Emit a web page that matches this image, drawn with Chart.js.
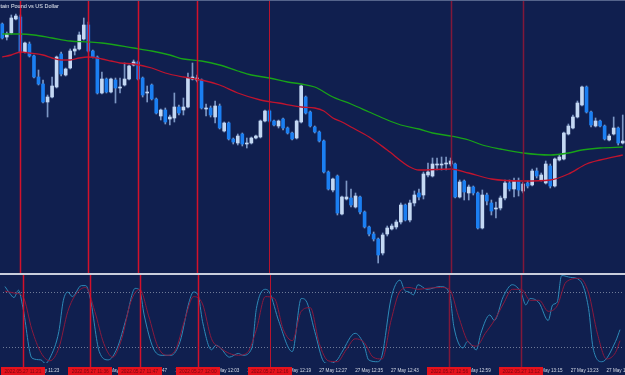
<!doctype html>
<html lang="en">
<head>
<meta charset="utf-8">
<title>GBPUSD M1</title>
<script src="https://cdn.jsdelivr.net/npm/chart.js"></script>
<style>
  html, body { margin: 0; padding: 0; background: #101f4f; overflow: hidden; }
  canvas { display: block; }
  .sep { height: 2px; background: #c9cedc; }
</style>
</head>
<body>
  <canvas id="priceChart" width="625" height="273"></canvas>
  <div class="sep"></div>
  <canvas id="stochChart" width="625" height="100"></canvas>

<script>
  // M1 candles, 27 May 2022, from 11:17
  const open = [
    1.26276,1.26263,1.26267,1.26281,1.26283,1.26248,1.26256,1.26244,1.26223,1.26216,
    1.26198,1.26203,1.26213,1.26246,1.26225,1.26232,1.26249,1.26251,1.26261,1.26275,
    1.26249,1.26243,1.26207,1.26221,1.26208,1.26220,1.26212,1.26215,1.26221,1.26235,
    1.26238,1.26222,1.26207,1.26215,1.26201,1.26184,1.26190,1.26181,1.26182,1.26193,
    1.26190,1.26193,1.26221,1.26220,1.26220,1.26191,1.26192,1.26183,1.26194,1.26169,
    1.26177,1.26161,1.26157,1.26166,1.26156,1.26157,1.26162,1.26163,1.26179,1.26189,
    1.26179,1.26174,1.26181,1.26172,1.26167,1.26162,1.26178,1.26203,1.26188,1.26173,
    1.26168,1.26159,1.26128,1.26110,1.26124,1.26086,1.26101,1.26102,1.26093,1.26103,
    1.26088,1.26073,1.26066,1.26061,1.26047,1.26066,1.26071,1.26073,1.26078,1.26095,
    1.26080,1.26097,1.26107,1.26105,1.26125,1.26124,1.26135,1.26135,1.26136,1.26136,
    1.26136,1.26103,1.26119,1.26107,1.26113,1.26107,1.26072,1.26105,1.26097,1.26091,
    1.26092,1.26102,1.26117,1.26111,1.26119,1.26109,1.26117,1.26115,1.26129,1.26120,
    1.26117,1.26134,1.26114,1.26140,1.26141,1.26166,1.26172,1.26183,1.26195,1.26213,
    1.26188,1.26174,1.26179,1.26174,1.26160,1.26166,1.26172,1.26157];
  const high = [
    1.26277,1.26268,1.26285,1.26286,1.26285,1.26258,1.26258,1.26245,1.26230,1.26220,
    1.26205,1.26223,1.26244,1.26248,1.26232,1.26251,1.26254,1.26268,1.26282,1.26278,
    1.26250,1.26244,1.26228,1.26222,1.26222,1.26222,1.26222,1.26237,1.26235,1.26240,
    1.26239,1.26223,1.26214,1.26216,1.26202,1.26191,1.26192,1.26185,1.26207,1.26195,
    1.26202,1.26227,1.26237,1.26225,1.26221,1.26196,1.26194,1.26199,1.26196,1.26178,
    1.26178,1.26162,1.26166,1.26167,1.26162,1.26163,1.26165,1.26180,1.26190,1.26190,
    1.26180,1.26180,1.26182,1.26173,1.26168,1.26180,1.26215,1.26204,1.26189,1.26174,
    1.26169,1.26160,1.26129,1.26122,1.26125,1.26104,1.26119,1.26111,1.26107,1.26104,
    1.26089,1.26074,1.26068,1.26062,1.26067,1.26074,1.26076,1.26080,1.26097,1.26096,
    1.26100,1.26109,1.26111,1.26128,1.26137,1.26142,1.26142,1.26143,1.26143,1.26142,
    1.26137,1.26120,1.26120,1.26115,1.26114,1.26108,1.26110,1.26107,1.26100,1.26098,
    1.26104,1.26120,1.26120,1.26122,1.26122,1.26118,1.26119,1.26131,1.26132,1.26127,
    1.26139,1.26136,1.26142,1.26145,1.26168,1.26176,1.26185,1.26199,1.26214,1.26214,
    1.26189,1.26182,1.26180,1.26175,1.26166,1.26183,1.26173,1.26185];
  const low = [
    1.26261,1.26260,1.26266,1.26280,1.26247,1.26247,1.26243,1.26222,1.26215,1.26197,
    1.26183,1.26202,1.26212,1.26224,1.26224,1.26231,1.26245,1.26250,1.26260,1.26248,
    1.26242,1.26206,1.26206,1.26207,1.26207,1.26197,1.26207,1.26214,1.26220,1.26234,
    1.26220,1.26203,1.26198,1.26200,1.26186,1.26180,1.26176,1.26175,1.26178,1.26185,
    1.26185,1.26192,1.26220,1.26218,1.26191,1.26184,1.26183,1.26177,1.26171,1.26168,
    1.26160,1.26156,1.26155,1.26154,1.26152,1.26156,1.26161,1.26162,1.26178,1.26178,
    1.26174,1.26172,1.26170,1.26166,1.26160,1.26161,1.26177,1.26186,1.26173,1.26167,
    1.26158,1.26127,1.26110,1.26108,1.26085,1.26085,1.26100,1.26093,1.26092,1.26086,
    1.26072,1.26064,1.26059,1.26037,1.26045,1.26064,1.26070,1.26071,1.26076,1.26079,
    1.26078,1.26094,1.26100,1.26101,1.26123,1.26123,1.26130,1.26130,1.26130,1.26134,
    1.26102,1.26102,1.26100,1.26100,1.26105,1.26071,1.26071,1.26095,1.26085,1.26082,
    1.26090,1.26100,1.26109,1.26103,1.26104,1.26107,1.26112,1.26114,1.26122,1.26119,
    1.26116,1.26112,1.26113,1.26139,1.26140,1.26165,1.26171,1.26182,1.26194,1.26187,
    1.26173,1.26173,1.26173,1.26160,1.26159,1.26165,1.26155,1.26156];
  const close = [
    1.26262,1.26266,1.26282,1.26284,1.26248,1.26257,1.26244,1.26223,1.26216,1.26198,
    1.26203,1.26214,1.26243,1.26226,1.26231,1.26249,1.26251,1.26265,1.26275,1.26249,
    1.26243,1.26207,1.26221,1.26208,1.26221,1.26212,1.26213,1.26221,1.26234,1.26238,
    1.26221,1.26205,1.26208,1.26201,1.26187,1.26190,1.26178,1.26183,1.26193,1.26187,
    1.26193,1.26222,1.26223,1.26222,1.26192,1.26192,1.26185,1.26194,1.26172,1.26177,
    1.26161,1.26158,1.26164,1.26156,1.26157,1.26162,1.26164,1.26179,1.26189,1.26179,
    1.26175,1.26179,1.26172,1.26167,1.26161,1.26179,1.26214,1.26187,1.26174,1.26168,
    1.26159,1.26128,1.26111,1.26121,1.26087,1.26103,1.26103,1.26095,1.26104,1.26088,
    1.26073,1.26066,1.26061,1.26045,1.26065,1.26072,1.26074,1.26078,1.26095,1.26080,
    1.26097,1.26105,1.26103,1.26126,1.26128,1.26136,1.26136,1.26136,1.26137,1.26139,
    1.26103,1.26118,1.26108,1.26113,1.26107,1.26072,1.26105,1.26099,1.26089,1.26092,
    1.26102,1.26117,1.26111,1.26119,1.26110,1.26116,1.26114,1.26129,1.26124,1.26125,
    1.26136,1.26114,1.26141,1.26143,1.26167,1.26174,1.26183,1.26197,1.26213,1.26188,
    1.26175,1.26179,1.26174,1.26161,1.26164,1.26172,1.26157,1.26159];

  // moving averages, read at some candles (index -> price)
  const slowMaAt = [0,4,7,11,15,19,22,29,33,37,40,44,48,52,55,59,63,66,69,73,77,81,84,88,92,95,99,103,106,110,115,121,125,128,132,137];
  const slowMa = [1.26266,1.26266,1.26265,1.26262,1.26259,1.26258,1.26257,1.26252,1.26249,1.26245,1.26241,1.26239,1.26235,1.26229,1.26225,1.26222,1.26218,1.26216,1.26213,1.26203,1.26196,1.26188,1.26182,1.26175,1.26171,1.26167,1.26164,1.26160,1.26155,1.26151,1.26147,1.26145,1.26147,1.26150,1.26152,1.26153];
  const fastMaAt = [0,2,4,6,9,11,13,15,17,19,22,24,26,29,33,36,40,44,48,52,57,61,66,69,71,73,75,77,81,85,90,92,99,103,108,115,121,125,129,132,137];
  const fastMa = [1.26243,1.26245,1.26248,1.26247,1.26245,1.26242,1.26240,1.26240,1.26242,1.26243,1.26241,1.26239,1.26237,1.26236,1.26232,1.26227,1.26223,1.26220,1.26215,1.26207,1.26200,1.26197,1.26193,1.26192,1.26189,1.26182,1.26178,1.26173,1.26163,1.26150,1.26133,1.26130,1.26131,1.26127,1.26121,1.26119,1.26120,1.26126,1.26136,1.26140,1.26145];

  // stochastic %K / %D
  const kAt = [0,1,2,3,4,6,8,9,10,12,13,14,15,17,18,19,21,23,25,27,29,30,31,33,35,37,39,41,42,43,44,46,47,48,50,52,53,55,56,58,59,61,64,66,67,69,71,72,74,75,78,80,81,83,84,86,88,89,90,91,92,94,97,99,100,102,103,105,106,108,109,111,113,115,116,117,119,121,122,123,124,126,128,130,131,133,136,137];
  const kVal = [87,80,75,83,64,9,7,3,9,38,72,81,76,88,88,74,16,7,20,52,85,83,56,20,12,12,27,70,81,78,49,18,23,20,10,14,12,20,63,84,80,49,16,74,72,38,5,3,7,15,36,23,7,5,12,74,94,83,81,78,89,84,87,80,43,20,27,18,36,56,50,76,89,80,67,74,69,50,67,70,99,97,94,63,20,5,27,40];
  const dAt = [0,2,4,6,8,10,12,14,16,18,20,22,24,26,28,30,32,34,36,38,40,42,44,46,48,50,52,54,56,58,60,62,64,66,68,70,72,74,76,78,80,82,84,86,88,90,92,94,97,99,101,103,105,107,109,111,113,115,117,119,121,123,125,128,130,132,134,136,137];
  const dVal = [82,80,76,40,15,6,20,60,80,86,60,25,10,30,70,84,55,22,12,18,50,76,68,30,20,14,12,15,40,76,74,40,28,60,64,25,6,5,18,30,26,10,8,50,82,86,84,85,86,84,55,28,22,36,50,68,84,84,72,72,60,66,92,96,80,35,8,15,28];
  const stochLevels = [20, 80];

  const tickTimes = ['11:23','11:31','11:39','11:47','11:55','12:03','12:11','12:19','12:27','12:35','12:43','12:51','12:59','13:07','13:15','13:23','13:31'];
  const markerTimes = ['11:21','11:36','11:47','12:00','12:16','12:56','13:12'];
  const markerColors = ['#d2112b','#d2112b','#d2112b','#d2112b','#b8142e','#80183a','#80183a'];
  const markerWidths = [1.5,1.5,1.5,1.5,1,1.5,1.5];

  // time categories, one per minute
  let times = [];
  for (let i = 0; i < open.length; i++) {
    let m = 17 + i;
    times.push(`${11 + Math.floor(m / 60)}:${String(m % 60).padStart(2, '0')}`);
  }

  const pts = (at, vals) => at.map((i, n) => ({ x: times[i], y: vals[n] }));

  Chart.defaults.font.family = '"Liberation Sans", Arial, sans-serif';

  const BULL = '#c4d8f3', BEAR = '#1b7ff2', WICK = '#7d97c4';

  const markerLines = {
    id: 'markerLines',
    afterDatasetsDraw(chart) {
      const { ctx, scales: { x } } = chart;
      markerTimes.forEach((t, k) => {
        let px = Math.round(x.getPixelForValue(times.indexOf(t))) + 0.5;
        ctx.save();
        ctx.strokeStyle = markerColors[k];
        ctx.lineWidth = markerWidths[k];
        ctx.beginPath();
        ctx.moveTo(px, 0);
        ctx.lineTo(px, chart.height);
        ctx.stroke();
        ctx.restore();
      });
    }
  };

  const titleText = {
    id: 'titleText',
    afterDraw(chart) {
      const ctx = chart.ctx;
      ctx.save();
      ctx.fillStyle = '#55648c';
      ctx.fillRect(0, 0, chart.width, 1);
      ctx.font = '5.5px "Liberation Sans"';
      ctx.fillStyle = '#e6eaf3';
      ctx.textBaseline = 'alphabetic';
      let cut = ctx.measureText('GBPUSD,M1  Great Bri').width;
      ctx.fillText('GBPUSD,M1  Great Britain Pound vs US Dollar', 0.5 - cut, 8);
      ctx.restore();
    }
  };

  const markerBoxes = {
    id: 'markerBoxes',
    afterDraw(chart) {
      const { ctx, chartArea, scales: { x } } = chart;
      ctx.save();
      ctx.font = '4.8px "Liberation Sans"';
      ctx.textAlign = 'center';
      ctx.textBaseline = 'middle';
      markerTimes.forEach(t => {
        let px = x.getPixelForValue(times.indexOf(t));
        ctx.fillStyle = '#e5121c';
        ctx.fillRect(Math.round(px - 22), chartArea.bottom + 4, 44, 9);
        ctx.fillStyle = '#7a0610';
        ctx.fillText('2022.05.27 ' + t, px, chartArea.bottom + 8.5);
      });
      ctx.restore();
    }
  };

  new Chart(document.getElementById('priceChart'), {
    type: 'bar',
    data: {
      labels: times,
      datasets: [
        {
          type: 'line', label: 'MA slow', data: pts(slowMaAt, slowMa),
          borderColor: '#18a318', borderWidth: 1.3, pointRadius: 0,
          cubicInterpolationMode: 'monotone', order: 0
        },
        {
          type: 'line', label: 'MA fast', data: pts(fastMaAt, fastMa),
          borderColor: '#c0142e', borderWidth: 1.3, pointRadius: 0,
          cubicInterpolationMode: 'monotone', order: 0
        },
        {
          label: 'body',
          data: open.map((o, i) => [Math.min(o, close[i]), Math.max(o, close[i])]),
          backgroundColor: ctx => close[ctx.dataIndex] >= open[ctx.dataIndex] ? BULL : BEAR,
          barThickness: 3, minBarLength: 1, grouped: false, order: 1
        },
        {
          label: 'wick',
          data: low.map((l, i) => [l, high[i]]),
          backgroundColor: WICK,
          barThickness: 1, grouped: false, order: 2
        }
      ]
    },
    options: {
      responsive: false,
      animation: false,
      devicePixelRatio: 1,
      layout: { padding: 0 },
      plugins: { legend: { display: false }, tooltip: { enabled: false } },
      scales: {
        x: { display: false, offset: true },
        y: { display: false, min: 1.26027, max: 1.26300 }
      }
    },
    plugins: [markerLines, titleText]
  });

  new Chart(document.getElementById('stochChart'), {
    type: 'line',
    data: {
      labels: times,
      datasets: [
        {
          label: '%D', data: pts(dAt, dVal), borderColor: '#8a1a3e', borderWidth: 1,
          pointRadius: 0, cubicInterpolationMode: 'monotone'
        },
        {
          label: '%K', data: pts(kAt, kVal), borderColor: '#2d8ab8', borderWidth: 1,
          pointRadius: 0, cubicInterpolationMode: 'monotone'
        }
      ]
    },
    options: {
      responsive: false,
      animation: false,
      devicePixelRatio: 1,
      layout: { padding: 0 },
      plugins: { legend: { display: false }, tooltip: { enabled: false } },
      scales: {
        x: {
          offset: true,
          grid: { display: false, drawTicks: false },
          border: { display: false },
          afterFit: s => { s.height = 12; },
          ticks: {
            autoSkip: false, maxRotation: 0, minRotation: 0, align: 'start', padding: 5,
            color: '#d6dbe7', font: { size: 4.6 },
            callback: (v) => tickTimes.includes(times[v]) ? '27 May ' + times[v] : ''
          }
        },
        y: {
          min: 3.6, max: 99.6,
          afterBuildTicks: s => { s.ticks = stochLevels.map(v => ({ value: v })); },
          ticks: { display: false },
          grid: { color: '#6f7b98', lineWidth: 1, drawTicks: false },
          border: { display: false, dash: [1, 2] }
        }
      }
    },
    plugins: [markerLines, markerBoxes]
  });
</script>
</body>
</html>
